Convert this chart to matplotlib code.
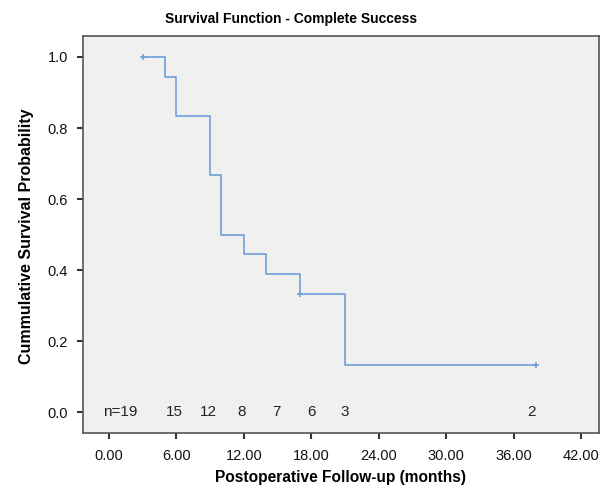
import matplotlib
matplotlib.use('Agg')
import matplotlib.pyplot as plt
import numpy as np

plt.rcParams['font.family'] = ['Liberation Sans', 'DejaVu Sans']

# step curve (time in months, survival probability)
step_times = [3, 5, 6, 9, 10, 12, 14, 17, 21, 38]
step_surv = [1.0, 0.944, 0.833, 0.667, 0.5, 0.444, 0.389, 0.333, 0.133, 0.133]
censor_times = [3, 17, 38]
censor_surv = [1.0, 0.333, 0.133]

# numbers at risk
risk_x = [1.0, 5.8, 8.8, 11.8, 14.9, 18.0, 21.0, 37.6]
risk_labels = ['n=19', '15', '12', '8', '7', '6', '3', '2']

xticks = [0, 6, 12, 18, 24, 30, 36, 42]
yticks = [0.0, 0.2, 0.4, 0.6, 0.8, 1.0]

fig = plt.figure(figsize=(6.13, 4.87), dpi=100)
ax = fig.add_axes([0.135, 0.1115, 0.842, 0.8145])
ax.set_facecolor('#f0f0f0')

line_color = '#6f9fd8'
ax.step(step_times, step_surv, where='post', color=line_color, linewidth=1.2)
ax.plot(censor_times, censor_surv, linestyle='none', marker='+', color=line_color,
        markersize=5, markeredgewidth=1.2)

for x, lab in zip(risk_x, risk_labels):
    ax.text(x, 0.0, lab, ha='center', va='center', fontsize=11, color='#222222')

ax.set_xlim(-2.34, 43.6)
ax.set_ylim(-0.058, 1.059)
ax.set_xticks(xticks)
ax.set_xticklabels(['{:.2f}'.format(t) for t in xticks])
ax.set_yticks(yticks)
ax.set_yticklabels(['{:.1f}'.format(t) for t in yticks])
ax.tick_params(direction='out', length=4.5, width=1.5, labelsize=10.5, colors='#333333')
ax.tick_params(labelcolor='#111111')
ax.tick_params(axis='x', pad=7)
ax.tick_params(axis='y', pad=6)

for sp in ax.spines.values():
    sp.set_color('#555555')
    sp.set_linewidth(1.2)

# titles placed in figure coordinates
fig.text(0.475, 0.961, 'Survival Function - Complete Success', fontsize=10, weight='bold',
         ha='center', va='center')
fig.text(0.556, 0.020, 'Postoperative Follow-up (months)', fontsize=11.2, weight='bold',
         ha='center', va='center')
fig.text(0.044, 0.515, 'Cummulative Survival Probability', fontsize=11.5, weight='bold',
         ha='center', va='center', rotation=90)

fig.savefig('out.png', dpi=100)
